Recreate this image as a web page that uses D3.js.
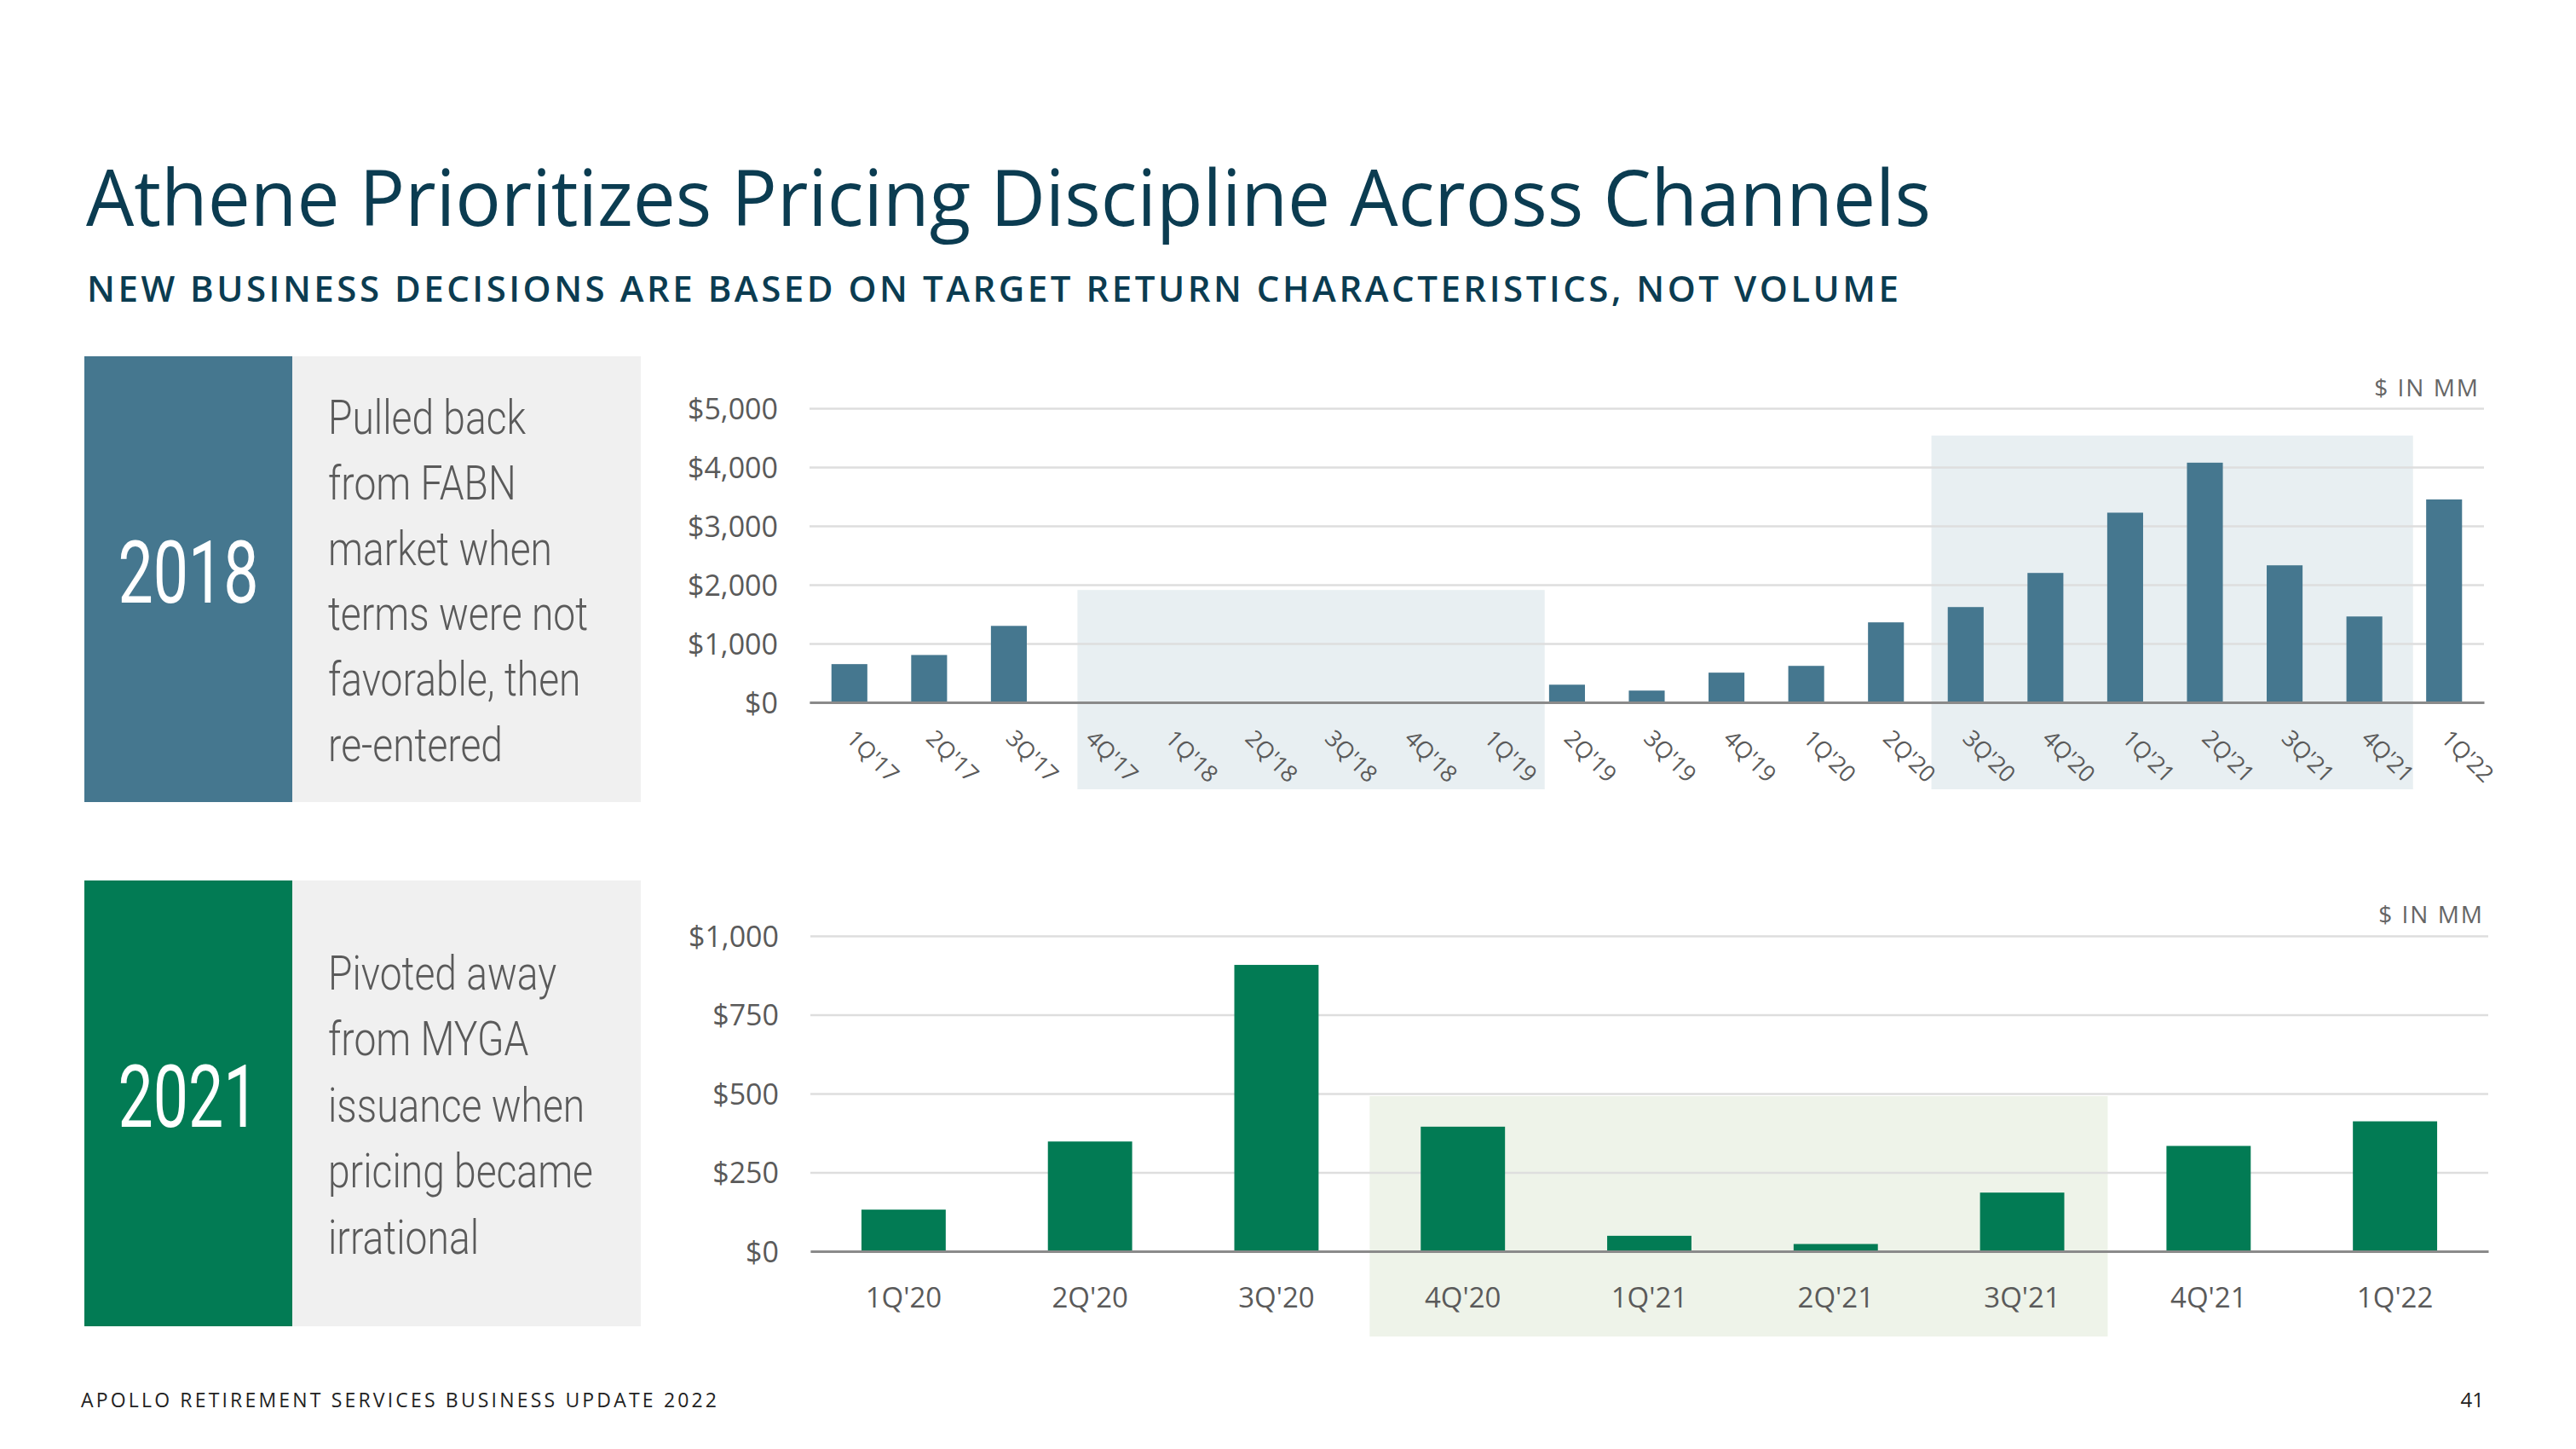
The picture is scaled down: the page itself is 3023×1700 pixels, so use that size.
<!DOCTYPE html>
<html>
<head>
<meta charset="utf-8">
<script src="https://cdn.jsdelivr.net/npm/d3@7"></script>
<style>
html,body{margin:0;padding:0;background:#fff;}
svg{display:block;}
</style>
</head>
<body>
<script>
// ---------- DATA ----------
const titleText = "Athene Prioritizes Pricing Discipline Across Channels";
const subtitleText = "NEW BUSINESS DECISIONS ARE BASED ON TARGET RETURN CHARACTERISTICS, NOT VOLUME";
const footerText = "APOLLO RETIREMENT SERVICES BUSINESS UPDATE 2022";
const pageNumber = "41";
const unitLabel = "$ IN MM";

const topYear = "2018";
const topNote = ["Pulled back", "from FABN", "market when", "terms were not", "favorable, then", "re-entered"];
const topCats = ["1Q'17","2Q'17","3Q'17","4Q'17","1Q'18","2Q'18","3Q'18","4Q'18","1Q'19","2Q'19","3Q'19","4Q'19","1Q'20","2Q'20","3Q'20","4Q'20","1Q'21","2Q'21","3Q'21","4Q'21","1Q'22"];
const topValues = [650, 805, 1300, 0, 0, 0, 0, 0, 0, 300, 200, 505, 620, 1360, 1620, 2200, 3225, 4075, 2330, 1460, 3450];
const topTicks = [0, 1000, 2000, 3000, 4000, 5000];
const topShadeFrom = ["4Q'17", "3Q'20"];
const topShadeTo = ["1Q'19", "4Q'21"];
const topShadeTop = [1910, 4535];

const botYear = "2021";
const botNote = ["Pivoted away", "from MYGA", "issuance when", "pricing became", "irrational"];
const botCats = ["1Q'20","2Q'20","3Q'20","4Q'20","1Q'21","2Q'21","3Q'21","4Q'21","1Q'22"];
const botValues = [132, 348, 908, 395, 49, 23, 186, 334, 412];
const botTicks = [0, 250, 500, 750, 1000];
const botShadeFrom = ["4Q'20"];
const botShadeTo = ["3Q'21"];
const botShadeTop = [492];

// ---------- STYLE ----------
const C = {
  title: "#0b3c51",
  blue: "#45778f",
  green: "#027b54",
  panel: "#f0f0f0",
  text: "#5a5a5a",
  grid: "#dedede",
  axis: "#8a8a8a",
  shadeBlue: "#e8eff2",
  shadeGreen: "#eef3e9"
};
const sans = "'Open Sans','Noto Sans',sans-serif";
const cond = "Roboto,'Open Sans',sans-serif";
const fmt = v => "$" + d3.format(",")(v);

const W = 3023, H = 1700;
const svg = d3.select("body").append("svg").attr("width", W).attr("height", H);

// ---------- HEADER ----------
svg.append("text").attr("x", 101).attr("y", 265)
  .attr("font-family", sans).attr("font-size", 92).attr("fill", C.title)
  .attr("textLength", 2165).attr("lengthAdjust", "spacingAndGlyphs")
  .text(titleText);
svg.append("text").attr("x", 102).attr("y", 354)
  .attr("font-family", sans).attr("font-weight", 600).attr("font-size", 42).attr("fill", C.title)
  .attr("letter-spacing", 1)
  .attr("textLength", 2127).attr("lengthAdjust", "spacing")
  .text(subtitleText);

// footer
svg.append("text").attr("x", 95).attr("y", 1651)
  .attr("font-family", sans).attr("font-size", 23).attr("fill", "#222")
  .attr("letter-spacing", 2)
  .attr("textLength", 748).attr("lengthAdjust", "spacing")
  .text(footerText);
svg.append("text").attr("x", 2915).attr("y", 1651).attr("text-anchor", "end")
  .attr("font-family", sans).attr("font-size", 24).attr("fill", "#222")
  .text(pageNumber);

// ---------- LEFT PANELS ----------
function panel(y0, y1, color, year, lines, firstBase, lineGap, yearBase) {
  svg.append("rect").attr("x", 99).attr("y", y0).attr("width", 244).attr("height", y1 - y0).attr("fill", color);
  svg.append("rect").attr("x", 343).attr("y", y0).attr("width", 409).attr("height", y1 - y0).attr("fill", C.panel);
  svg.append("text")
    .attr("transform", `translate(221,${yearBase}) scale(0.72,1)`)
    .attr("text-anchor", "middle").attr("font-family", cond).attr("font-size", 102)
    .attr("fill", "#fff").text(year);
  lines.forEach((t, i) => {
    svg.append("text")
      .attr("transform", `translate(385,${firstBase + i * lineGap}) scale(0.84,1)`)
      .attr("font-family", cond).attr("font-weight", 300).attr("font-size", 55)
      .attr("fill", C.text).text(t);
  });
}
panel(418, 941, C.blue, topYear, topNote, 509, 76.8, 707);
panel(1033, 1556, C.green, botYear, botNote, 1161, 77.4, 1322);

// ---------- CHART BUILDER ----------
function chart(cfg) {
  const g = svg.append("g");
  const x = d3.scaleBand().domain(cfg.cats).range([cfg.x0, cfg.x1])
    .paddingInner(cfg.pad).paddingOuter(cfg.pad / 2);
  const y = d3.scaleLinear().domain([0, d3.max(cfg.ticks)]).range([cfg.yBase, cfg.yTop]);
  const step = x.step(), bw = x.bandwidth();
  const cx = c => x(c) + bw / 2;

  // shading
  cfg.shFrom.forEach((f, i) => {
    const xa = cfg.shadeX0(f, i, x, cx, step);
    const xb = cfg.shadeX1(cfg.shTo[i], i, x, cx, step);
    const ya = y(cfg.shTop[i]);
    g.append("rect").attr("x", xa).attr("y", ya).attr("width", xb - xa)
      .attr("height", cfg.shadeBottom - ya).attr("fill", cfg.shadeColor);
  });

  // gridlines + y labels
  const yAxis = d3.axisLeft(y).tickValues(cfg.ticks).tickFormat(fmt).tickSize(-(cfg.x1 - cfg.x0)).tickPadding(37);
  const ya = g.append("g").attr("transform", `translate(${cfg.x0},0)`).call(yAxis);
  ya.select(".domain").remove();
  ya.selectAll(".tick line").attr("stroke", C.grid).attr("stroke-width", 2.5);
  ya.selectAll(".tick text").attr("font-family", sans).attr("font-size", 34)
    .attr("fill", C.text).attr("dy", "0.36em");

  // bars
  g.selectAll("rect.bar").data(cfg.values).enter().append("rect").attr("class", "bar")
    .attr("x", (d, i) => x(cfg.cats[i])).attr("width", bw)
    .attr("y", d => y(d)).attr("height", d => y(0) - y(d)).attr("fill", cfg.color);

  // baseline
  const xAxis = d3.axisBottom(x).tickSize(0).tickFormat("");
  const xa = g.append("g").attr("transform", `translate(0,${cfg.yBase})`).call(xAxis);
  xa.select(".domain").attr("stroke", C.axis).attr("stroke-width", 3);

  // x labels
  cfg.cats.forEach(c => {
    if (cfg.rotate) {
      g.append("text").attr("transform", `translate(${cx(c) - 5},${cfg.yBase + 44}) rotate(45)`)
        .attr("font-family", sans).attr("font-size", 27).attr("fill", C.text).text(c);
    } else {
      g.append("text").attr("x", cx(c)).attr("y", cfg.yBase + 66).attr("text-anchor", "middle")
        .attr("font-family", sans).attr("font-size", 33).attr("fill", C.text).text(c);
    }
  });

  // unit label
  g.append("text").attr("x", cfg.x1 - 5).attr("y", cfg.unitY).attr("text-anchor", "end")
    .attr("font-family", sans).attr("font-size", 28).attr("letter-spacing", 2)
    .attr("fill", "#666").text(unitLabel);
}

const topLead = [0.14, 0.43], topTrail = [0.72, 0.61];
chart({
  cats: topCats, values: topValues, ticks: topTicks,
  x0: 950, x1: 2915, yBase: 824, yTop: 479, pad: 0.55,
  color: C.blue, rotate: true, unitY: 465,
  shFrom: topShadeFrom, shTo: topShadeTo, shTop: topShadeTop,
  shadeColor: C.shadeBlue, shadeBottom: 926,
  shadeX0: (c, i, x, cx, s) => cx(c) - topLead[i] * s,
  shadeX1: (c, i, x, cx, s) => cx(c) + topTrail[i] * s
});
chart({
  cats: botCats, values: botValues, ticks: botTicks,
  x0: 951, x1: 2920, yBase: 1468, yTop: 1098, pad: 0.548,
  color: C.green, rotate: false, unitY: 1083,
  shFrom: botShadeFrom, shTo: botShadeTo, shTop: botShadeTop,
  shadeColor: C.shadeGreen, shadeBottom: 1568,
  shadeX0: (c, i, x, cx, s) => cx(c) - s / 2,
  shadeX1: (c, i, x, cx, s) => cx(c) + s / 2 - 9
});
</script>
</body>
</html>
